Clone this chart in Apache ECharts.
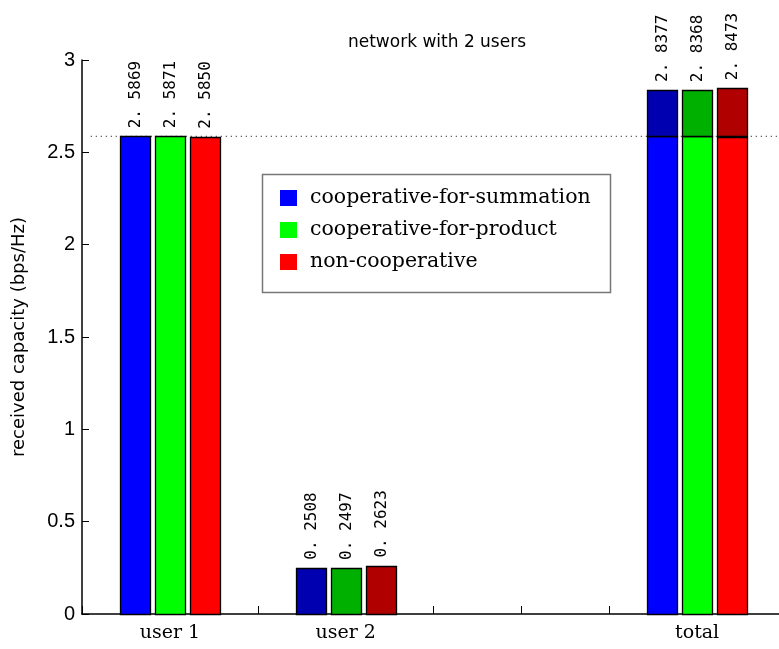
<!DOCTYPE html>
<html>
<head>
<meta charset="utf-8">
<script src="https://cdn.jsdelivr.net/npm/echarts@6/dist/echarts.min.js"></script>
<style>html,body{margin:0;padding:0;background:#fff;}#c{width:779px;height:649px;}</style>
</head>
<body>
<div id="c"></div>
<script>
const categories = ['user 1', 'user 2', 'total'];
const categoryX = [1, 2, 4];
const seriesNames = ['cooperative-for-summation', 'cooperative-for-product', 'non-cooperative'];
const user1Values = [2.5869, 2.5871, 2.5850];
const user2Values = [0.2508, 0.2497, 0.2623];
const totalValues = [2.8377, 2.8368, 2.8473];
const refLevel = 2.5869;

const brightColors = ['#0000ff', '#00ff00', '#ff0000'];
const darkColors = ['#0000b0', '#00b000', '#b00000'];
const barOffsets = [-0.2, 0, 0.2];
const barHalfWidth = 0.085;

function fmt(v) { return v.toFixed(4).replace('.', '. '); }

const series = seriesNames.map((name, i) => {
  // item: [x, yBottom, yTop, colorKind(0 bright,1 dark), labelValue or -1]
  const data = [
    [categoryX[0] + barOffsets[i], 0, user1Values[i], 0, user1Values[i]],
    [categoryX[1] + barOffsets[i], 0, user2Values[i], 1, user2Values[i]],
    [categoryX[2] + barOffsets[i], 0, user1Values[i], 0, -1],
    [categoryX[2] + barOffsets[i], user1Values[i], totalValues[i], 1, totalValues[i]]
  ];
  return {
    type: 'custom',
    name: name,
    itemStyle: { color: brightColors[i] },
    data: data,
    z: 3,
    renderItem: function (params, api) {
      const x = api.value(0), y0 = api.value(1), y1 = api.value(2);
      const kind = api.value(3), lab = api.value(4);
      const pL = api.coord([x - barHalfWidth, y1]);
      const pR = api.coord([x + barHalfWidth, y0]);
      const children = [{
        type: 'rect',
        shape: { x: Math.round(pL[0]) + 0.5, y: Math.round(pL[1]) + 0.5, width: Math.round(pR[0] - pL[0]), height: Math.round(pR[1] - pL[1]) },
        style: { fill: kind === 0 ? brightColors[i] : darkColors[i], stroke: '#000', lineWidth: 1.3 }
      }];
      if (lab >= 0) {
        const pc = api.coord([x, y1]);
        children.push({
          type: 'text',
          x: pc[0] + 1, y: pc[1] - 8,
          rotation: Math.PI / 2,
          style: { text: fmt(lab), fill: '#000', font: '16px "DejaVu Sans Mono"', align: 'left', verticalAlign: 'middle' }
        });
      }
      return { type: 'group', children: children };
    }
  };
});

series.push({
  type: 'line',
  name: 'ref',
  data: [[0.55, refLevel], [4.5, refLevel]],
  symbol: 'none',
  silent: true,
  z: 2,
  lineStyle: { color: '#000', width: 1, type: [1, 4] }
});

const labelMap = {};
categoryX.forEach((x, i) => { labelMap[x] = categories[i]; });

const option = {
  backgroundColor: '#fff',
  animation: false,
  title: {
    text: 'network with 2 users', left: 432, top: 29, textAlign: 'center',
    textStyle: { fontFamily: 'DejaVu Sans', fontSize: 17, fontWeight: 'normal', color: '#000' }
  },
  legend: {
    data: seriesNames,
    orient: 'vertical',
    left: 280, top: 187,
    itemWidth: 17, itemHeight: 16, itemGap: 10,
    icon: 'rect',
    textStyle: { fontFamily: 'DejaVu Serif', fontSize: 20.5, lineHeight: 22, color: '#000', padding: [0, 0, 0, 8] },
    padding: 0
  },
  graphic: [{
    type: 'rect', left: 260, top: 172,
    shape: { width: 348, height: 118 },
    style: { fill: 'none', stroke: '#777', lineWidth: 1.5 }, z: 1
  }],
  grid: { left: 82, width: 703, top: 60, bottom: 35, containLabel: false, outerBoundsMode: 'none' },
  xAxis: {
    type: 'value', min: 0.5, max: 4.5, interval: 0.5,
    axisLine: { show: true, lineStyle: { color: '#000', width: 1.5 } },
    axisTick: { show: true, inside: true, length: 8, lineStyle: { color: '#000' } },
    splitLine: { show: false },
    axisLabel: {
      formatter: v => labelMap[v] || '',
      fontFamily: 'DejaVu Serif', fontSize: 19, color: '#000', margin: 10
    }
  },
  yAxis: {
    type: 'value', min: 0, max: 3, interval: 0.5,
    name: 'received capacity (bps/Hz)', nameLocation: 'middle', nameGap: 54,
    nameTextStyle: { fontFamily: 'DejaVu Sans', fontSize: 18, color: '#000' },
    axisLine: { show: true, lineStyle: { color: '#000', width: 1.5 } },
    axisTick: { show: true, inside: true, length: 7, lineStyle: { color: '#000' } },
    splitLine: { show: false },
    axisLabel: {
      formatter: v => String(v),
      fontFamily: 'Liberation Sans', fontSize: 20, color: '#000', margin: 7
    }
  },
  series: series
};

const chart = echarts.init(document.getElementById('c'), null, { renderer: 'canvas' });
chart.setOption(option);
</script>
</body>
</html>
